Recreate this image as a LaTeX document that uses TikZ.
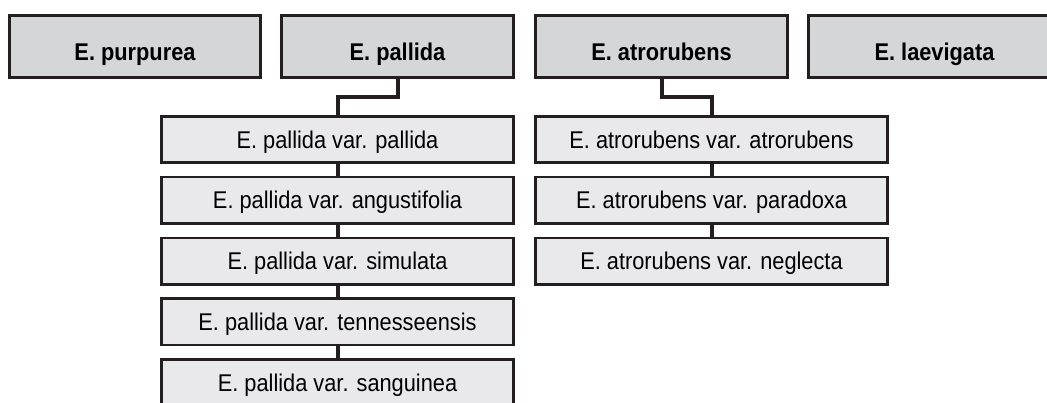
\documentclass[tikz,border=0pt]{standalone}
\usepackage{fontspec}
\setmainfont{Liberation Sans}[FakeStretch=0.9]
\usetikzlibrary{positioning}
\definecolor{boxline}{HTML}{231F20}
\definecolor{speciesfill}{HTML}{D5D6D8}
\definecolor{varietyfill}{HTML}{E9E9EB}

\begin{document}
\begin{tikzpicture}[
    species/.style = {draw=boxline, line width=2.7pt, fill=speciesfill, minimum height=62.3pt, text height=27pt, text depth=0pt, font=\fontsize{24.2pt}{29pt}\selectfont\bfseries},
    variety/.style = {draw=boxline, line width=2.7pt, fill=varietyfill, minimum width=352.3pt, minimum height=46.3pt, text height=17pt, text depth=0pt, font=\fontsize{24.2pt}{29pt}\selectfont},
    link/.style = {draw=boxline, line width=4pt}
  ]
  \useasboundingbox (0,0) rectangle (1047pt,-402pt);

  \node[species, minimum width=251.3pt] (purpurea) at (135pt,-46.5pt) {E. purpurea};
  \node[species, minimum width=232.3pt, right=18pt of purpurea] (pallida) {E. pallida};
  \node[species, minimum width=252.3pt, right=19pt of pallida] (atrorubens) {E. atrorubens};
  \node[species, minimum width=252.3pt, right=18pt of atrorubens] (laevigata) {E. laevigata};

  \node[variety, below=36pt of pallida.south east, anchor=north east] (var pallida) {E. pallida var. pallida};
  \node[variety, below=11.75pt of var pallida] (var angustifolia) {E. pallida var. angustifolia};
  \node[variety, below=11.75pt of var angustifolia] (var simulata) {E. pallida var. simulata};
  \node[variety, below=11.75pt of var simulata] (var tennesseensis) {E. pallida var. tennesseensis};
  \node[variety, below=11.75pt of var tennesseensis] (var sanguinea) {E. pallida var. sanguinea};

  \node[variety, below=36pt of atrorubens.south west, anchor=north west] (var atrorubens) {E. atrorubens var. atrorubens};
  \node[variety, below=11.75pt of var atrorubens] (var paradoxa) {E. atrorubens var. paradoxa};
  \node[variety, below=11.75pt of var paradoxa] (var neglecta) {E. atrorubens var. neglecta};

  \draw[link] (pallida.south) -- ++(0,-18pt) -| (var pallida.north);
  \draw[link] (var pallida) -- (var angustifolia);
  \draw[link] (var angustifolia) -- (var simulata);
  \draw[link] (var simulata) -- (var tennesseensis);
  \draw[link] (var tennesseensis) -- (var sanguinea);

  \draw[link] (atrorubens.south) -- ++(0,-18pt) -| (var atrorubens.north);
  \draw[link] (var atrorubens) -- (var paradoxa);
  \draw[link] (var paradoxa) -- (var neglecta);
\end{tikzpicture}
\end{document}
